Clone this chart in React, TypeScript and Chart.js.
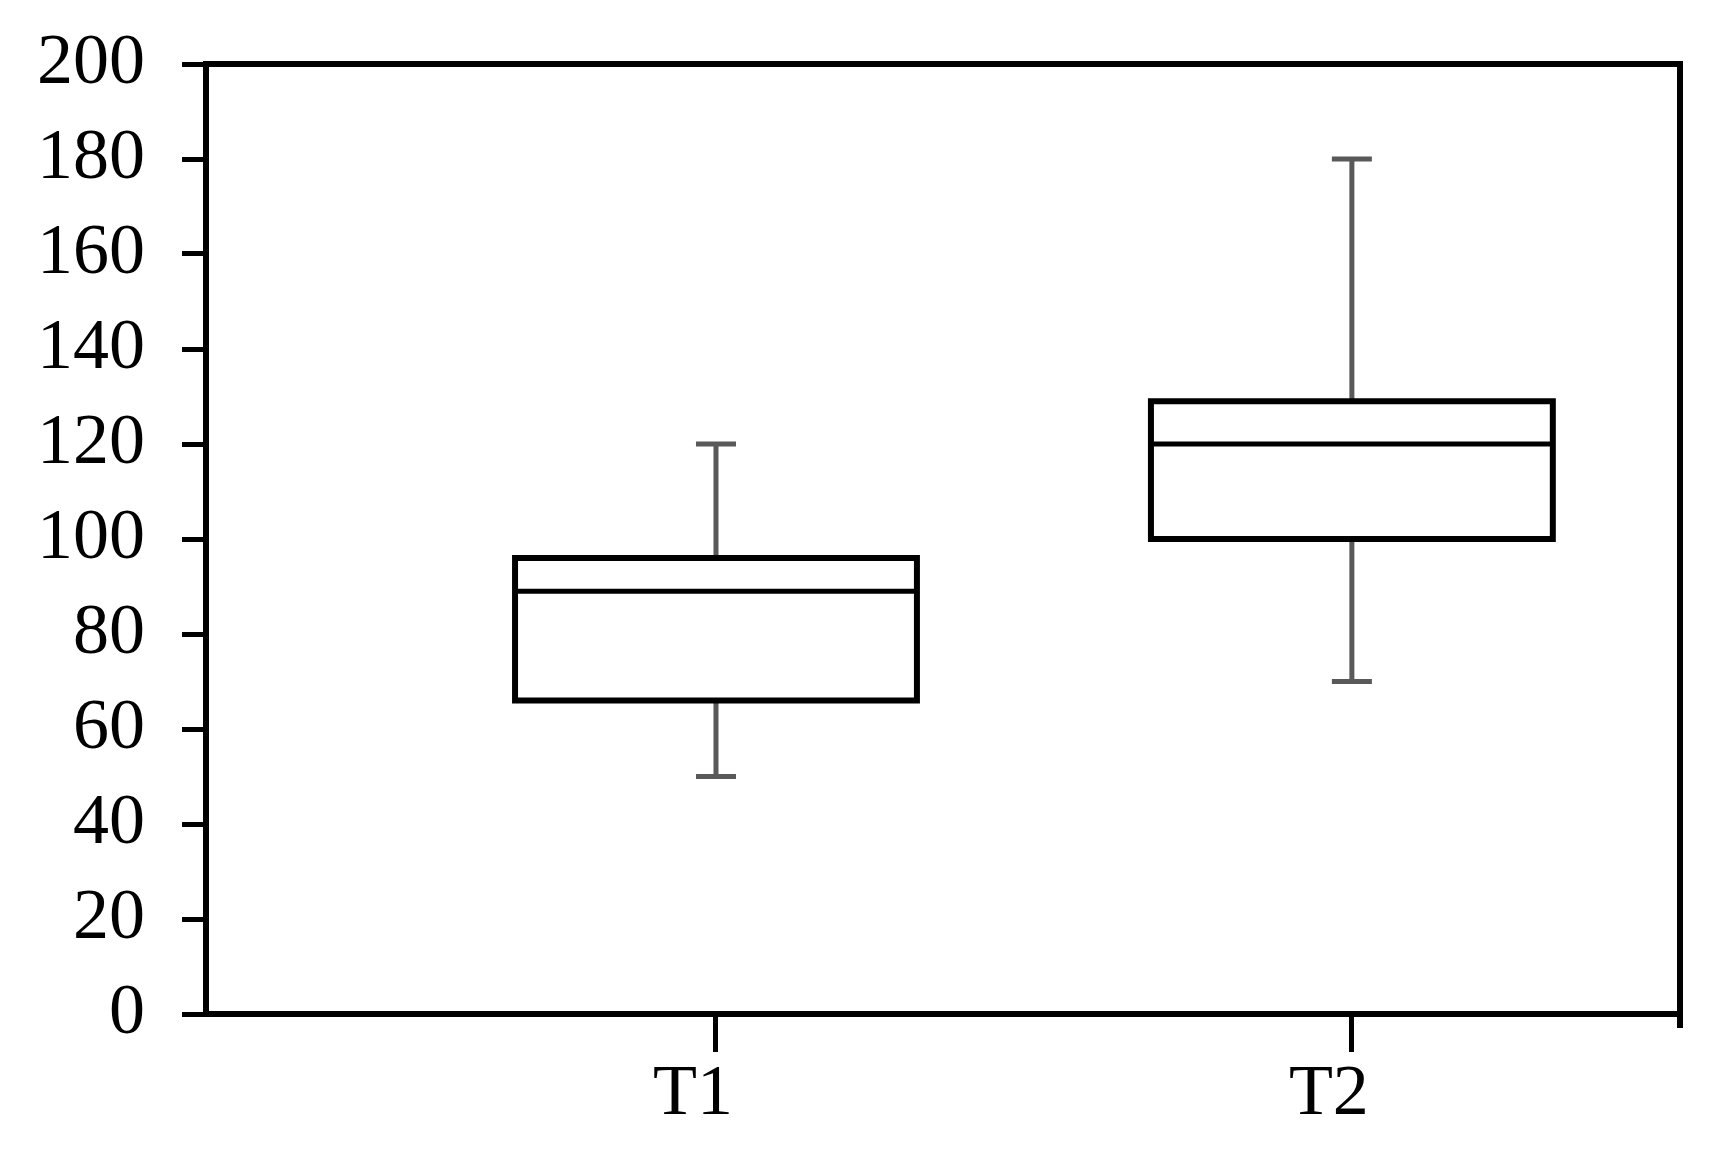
import React, { useEffect, useRef } from "react";
import { Chart, registerables } from "chart.js";

Chart.register(...registerables);

const categories = ["T1", "T2"];
const positions = [1, 2];
const mins = [50, 70];
const q1s = [66, 100];
const medians = [89, 120];
const q3s = [96, 129];
const maxs = [120, 180];
const yMin = 0;
const yMax = 200;
const yStep = 20;

const boxPlugin = {
  id: "boxExtras",
  afterDatasetsDraw(chart: any) {
    const { ctx, scales } = chart;
    const y = scales.y;
    const meta = chart.getDatasetMeta(0);
    ctx.save();
    meta.data.forEach((bar: any, i: number) => {
      const cx = bar.x;
      const w = bar.width;
      const yq3 = y.getPixelForValue(q3s[i]);
      const yq1 = y.getPixelForValue(q1s[i]);
      const ymax = y.getPixelForValue(maxs[i]);
      const ymin = y.getPixelForValue(mins[i]);
      const ym = y.getPixelForValue(medians[i]);
      // whiskers
      ctx.strokeStyle = "#595959";
      ctx.lineWidth = 5;
      ctx.lineCap = "butt";
      ctx.beginPath();
      ctx.moveTo(cx, yq3);
      ctx.lineTo(cx, ymax);
      ctx.moveTo(cx - 20, ymax);
      ctx.lineTo(cx + 20, ymax);
      ctx.moveTo(cx, yq1);
      ctx.lineTo(cx, ymin);
      ctx.moveTo(cx - 20, ymin);
      ctx.lineTo(cx + 20, ymin);
      ctx.stroke();
      // box outline centered on the quartile values
      ctx.strokeStyle = "#000";
      ctx.lineWidth = 6;
      ctx.lineJoin = "miter";
      ctx.strokeRect(cx - w / 2, yq3, w, yq1 - yq3);
      // median
      ctx.lineWidth = 5;
      ctx.beginPath();
      ctx.moveTo(cx - w / 2, ym);
      ctx.lineTo(cx + w / 2, ym);
      ctx.stroke();
    });
    ctx.restore();
  },
  afterDraw(chart: any) {
    const { ctx, chartArea } = chart;
    ctx.save();
    ctx.strokeStyle = "#000";
    ctx.lineWidth = 6;
    ctx.beginPath();
    ctx.moveTo(chartArea.left, chartArea.top);
    ctx.lineTo(chartArea.right + 3, chartArea.top);
    ctx.moveTo(chartArea.right, chartArea.top);
    ctx.lineTo(chartArea.right, chartArea.bottom + 14);
    ctx.stroke();
    ctx.restore();
  },
};

export default function App() {
  const ref = useRef<HTMLCanvasElement | null>(null);
  useEffect(() => {
    if (!ref.current) return;
    const chart = new Chart(ref.current, {
      type: "bar",
      data: {
        datasets: [
          {
            data: positions.map((p, i) => ({ x: p, y: [q1s[i], q3s[i]] })) as any,
            backgroundColor: "#ffffff",
            borderWidth: 0,
            barPercentage: 0.8,
            categoryPercentage: 0.79,
          },
        ],
      },
      options: {
        responsive: false,
        animation: false,
        devicePixelRatio: 1,
        layout: { padding: { top: 64, right: 35, left: 0, bottom: 0 } },
        plugins: { legend: { display: false }, tooltip: { enabled: false } },
        scales: {
          x: {
            type: "linear",
            offset: false,
            min: 0.198,
            max: 2.516,
            afterBuildTicks: (scale: any) => {
              scale.ticks = positions.map((v) => ({ value: v }));
            },
            afterFit: (scale: any) => {
              scale.height = 137;
              scale.paddingLeft = 0;
              scale.paddingRight = 0;
            },
            ticks: {
              callback: (v: any) => {
                const idx = positions.indexOf(Number(v));
                return idx >= 0 ? categories[idx] : "";
              },
              color: "#000",
              font: { family: "Liberation Serif", size: 72 },
              padding: 0,
              labelOffset: -23,
              maxRotation: 0,
              autoSkip: false,
            },
            grid: {
              offset: false,
              drawOnChartArea: false,
              drawTicks: true,
              tickLength: 38,
              tickWidth: 5,
              tickColor: "#000",
            },
            border: { display: true, color: "#000", width: 6 },
          },
          y: {
            min: yMin,
            max: yMax,
            afterFit: (scale: any) => {
              scale.width = 206;
              scale.paddingTop = 0;
              scale.paddingBottom = 0;
            },
            ticks: {
              stepSize: yStep,
              color: "#000",
              font: { family: "Liberation Serif", size: 72 },
              padding: 37,
            },
            grid: {
              drawOnChartArea: false,
              drawTicks: true,
              tickLength: 24,
              tickWidth: 5,
              tickColor: "#000",
            },
            border: { display: true, color: "#000", width: 6 },
          },
        },
      },
      plugins: [boxPlugin],
    });
    return () => chart.destroy();
  }, []);
  return (
    <canvas
      ref={ref}
      width={1715}
      height={1151}
      style={{ position: "absolute", left: 0, top: 0, width: 1715, height: 1151 }}
    />
  );
}
